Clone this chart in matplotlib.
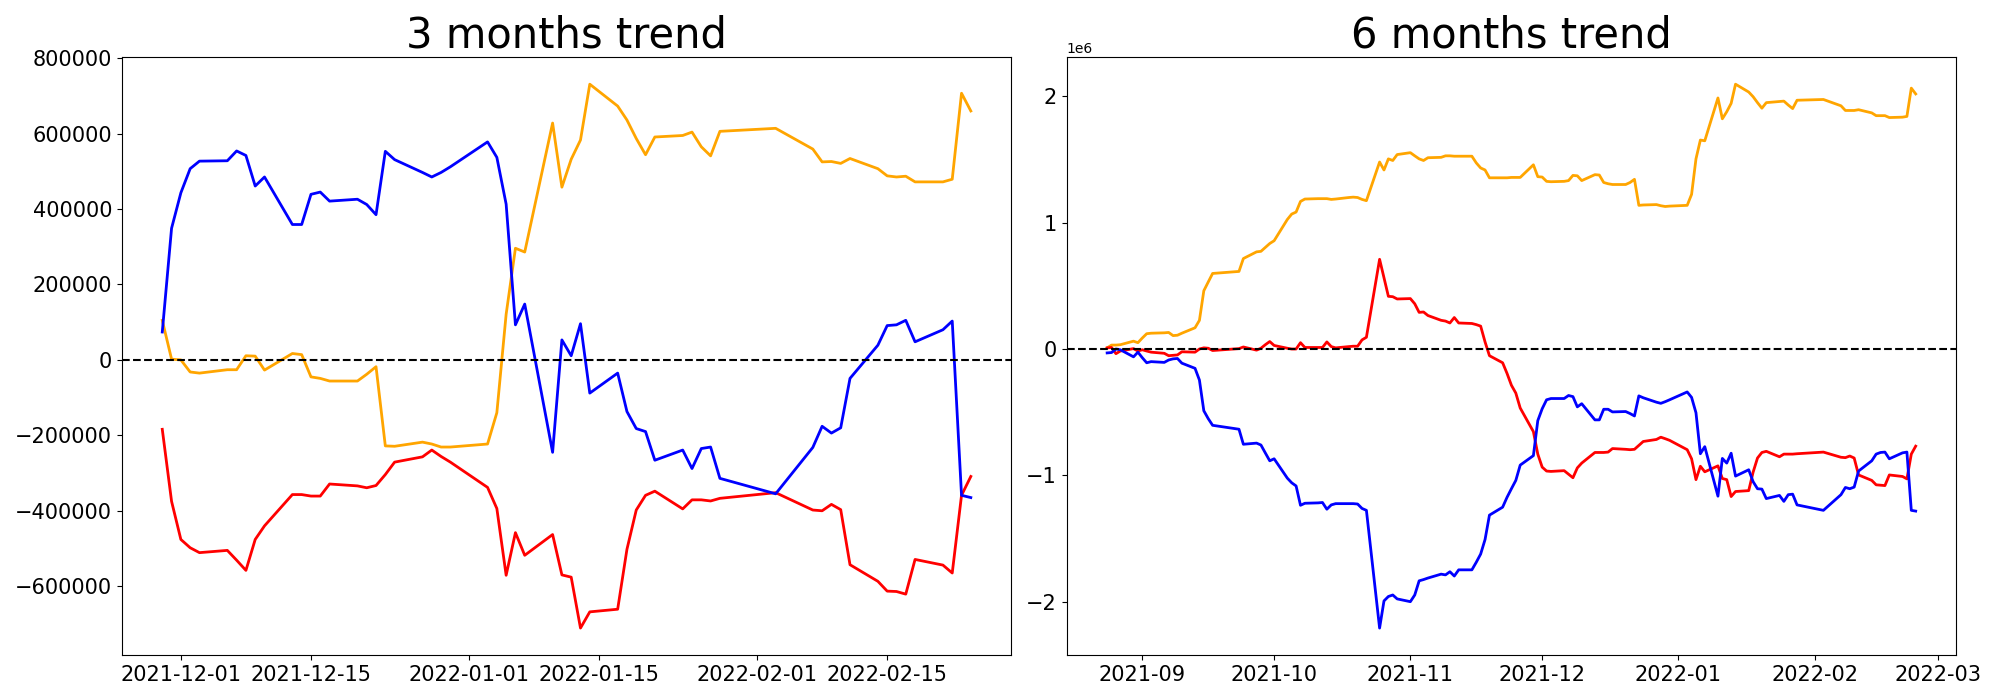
import matplotlib
matplotlib.use("Agg")
import matplotlib.pyplot as plt
import pandas as pd

# ---------------- 3 months data ----------------
dates_3m = ["2021-11-29","2021-11-30","2021-12-01","2021-12-02","2021-12-03","2021-12-06","2021-12-07",
            "2021-12-08","2021-12-09","2021-12-10","2021-12-13","2021-12-14","2021-12-15","2021-12-16",
            "2021-12-17","2021-12-20","2021-12-21","2021-12-22","2021-12-23","2021-12-24","2021-12-27",
            "2021-12-28","2021-12-29","2021-12-30","2022-01-03","2022-01-04","2022-01-05","2022-01-06",
            "2022-01-07","2022-01-10","2022-01-11","2022-01-12","2022-01-13","2022-01-14","2022-01-17",
            "2022-01-18","2022-01-19","2022-01-20","2022-01-21","2022-01-24","2022-01-25","2022-01-26",
            "2022-01-27","2022-01-28","2022-02-03","2022-02-07","2022-02-08","2022-02-09","2022-02-10",
            "2022-02-11","2022-02-14","2022-02-15","2022-02-16","2022-02-17","2022-02-18","2022-02-21",
            "2022-02-22","2022-02-23","2022-02-24"]

blue_3m = [74, 349, 443, 507, 527, 528, 554, 542, 461, 485, 359, 359, 439, 445, 421, 426, 412, 385,
           553, 531, 497, 485, 497, 512, 578, 537, 413, 93, 148, -245, 53, 11, 96, -88, -35, -137,
           -182, -190, -266, -239, -288, -235, -231, -314, -355, -232, -176, -194, -180, -49, 39, 91,
           93, 105, 48, 80, 103, -359, -365]

orange_3m = [105, 2, 0, -32, -35, -26, -26, 11, 10, -27, 17, 14, -45, -49, -56, -56, -38, -18,
             -228, -229, -218, -223, -231, -231, -223, -140, 121, 296, 286, 628, 458, 532, 583, 731,
             673, 636, 587, 544, 591, 595, 604, 565, 541, 606, 614, 559, 525, 526, 521, 534, 507, 488,
             485, 487, 472, 472, 479, 707, 660]

red_3m = [-184, -375, -476, -498, -511, -505, -531, -558, -476, -440, -357, -357, -361, -361, -329,
          -334, -339, -333, -304, -271, -257, -239, -256, -271, -338, -394, -571, -458, -518, -463,
          -570, -576, -711, -668, -661, -502, -398, -359, -348, -395, -371, -371, -374, -367, -352,
          -398, -400, -383, -397, -543, -587, -613, -614, -621, -529, -544, -565, -359, -309]

# ---------------- 6 months data ----------------
dates_6m = ["2021-08-24","2021-08-25","2021-08-26","2021-08-27","2021-08-30","2021-08-31",
            "2021-09-01","2021-09-02","2021-09-03","2021-09-06","2021-09-07","2021-09-08","2021-09-09",
            "2021-09-10","2021-09-13","2021-09-14","2021-09-15","2021-09-16","2021-09-17","2021-09-23",
            "2021-09-24","2021-09-27","2021-09-28","2021-09-29","2021-09-30",
            "2021-10-01","2021-10-04","2021-10-05","2021-10-06","2021-10-07","2021-10-08","2021-10-11",
            "2021-10-12","2021-10-13","2021-10-14","2021-10-15","2021-10-18","2021-10-19","2021-10-20",
            "2021-10-21","2021-10-22","2021-10-25","2021-10-26","2021-10-27","2021-10-28","2021-10-29",
            "2021-11-01","2021-11-02","2021-11-03","2021-11-04","2021-11-05","2021-11-08","2021-11-09",
            "2021-11-10","2021-11-11","2021-11-12","2021-11-15","2021-11-16","2021-11-17","2021-11-18",
            "2021-11-19","2021-11-22","2021-11-23","2021-11-24","2021-11-25","2021-11-26","2021-11-29",
            "2021-11-30"] + dates_3m[2:]

orange_6m = [0.009, 0.031, 0.031, 0.034, 0.062, 0.050,
             0.087, 0.121, 0.125, 0.128, 0.131, 0.106, 0.109, 0.125, 0.168, 0.227, 0.461, 0.530, 0.598,
             0.614, 0.716, 0.769, 0.773, 0.804, 0.835,
             0.857, 1.025, 1.068, 1.084, 1.168, 1.187, 1.190, 1.190, 1.190, 1.184, 1.187, 1.199, 1.202,
             1.199, 1.184, 1.174, 1.480, 1.417, 1.505, 1.492, 1.539,
             1.554, 1.529, 1.505, 1.492, 1.514, 1.517, 1.529, 1.529, 1.526, 1.526, 1.526, 1.473, 1.433,
             1.417, 1.355, 1.355, 1.355, 1.358, 1.358, 1.358, 1.458, 1.364,
             1.361, 1.327, 1.324, 1.327, 1.333, 1.374, 1.371, 1.333, 1.380, 1.377, 1.318, 1.308, 1.302,
             1.302, 1.318, 1.343, 1.137, 1.140, 1.143, 1.134, 1.128, 1.131,
             1.137, 1.224, 1.505, 1.654, 1.648, 1.987, 1.822, 1.878, 1.944, 2.096, 2.034, 1.997, 1.950,
             1.906, 1.950, 1.959, 1.962, 1.931, 1.903, 1.969,
             1.975, 1.925, 1.888, 1.888, 1.888, 1.894, 1.869, 1.847, 1.847, 1.847, 1.832, 1.835, 1.841,
             2.065, 2.019]

blue_6m = [-0.031, -0.028, 0.000, -0.006, -0.062, -0.025,
           -0.069, -0.109, -0.100, -0.106, -0.087, -0.078, -0.075, -0.112, -0.153, -0.246, -0.489,
           -0.551, -0.604, -0.635, -0.754, -0.745, -0.760, -0.823, -0.885,
           -0.869, -1.022, -1.059, -1.084, -1.237, -1.221, -1.218, -1.215, -1.268, -1.234, -1.224,
           -1.224, -1.224, -1.227, -1.262, -1.277, -2.209, -1.994, -1.959, -1.947, -1.978,
           -2.000, -1.947, -1.835, -1.825, -1.813, -1.782, -1.788, -1.763, -1.797, -1.748, -1.748,
           -1.688, -1.623, -1.508, -1.315, -1.252, -1.174, -1.106, -1.040, -0.919, -0.844, -0.567,
           -0.473, -0.402, -0.392, -0.392, -0.368, -0.377, -0.458, -0.433, -0.561, -0.561, -0.477,
           -0.477, -0.498, -0.495, -0.511, -0.530, -0.371, -0.386, -0.421, -0.430, -0.417, -0.402,
           -0.340, -0.383, -0.505, -0.829, -0.773, -1.165, -0.866, -0.903, -0.825, -1.006, -0.956,
           -1.050, -1.106, -1.109, -1.184, -1.159, -1.206, -1.153, -1.149, -1.234,
           -1.277, -1.153, -1.096, -1.106, -1.093, -0.966, -0.885, -0.832, -0.819, -0.816, -0.869,
           -0.822, -0.816, -1.277, -1.283]

red_6m = [0.009, 0.012, -0.037, -0.016, 0.003, -0.016,
          -0.006, -0.016, -0.025, -0.034, -0.053, -0.050, -0.047, -0.022, -0.025, 0.000, 0.009, 0.006,
          -0.012, 0.003, 0.016, -0.009, 0.006, 0.034, 0.059,
          0.028, 0.006, 0.000, 0.000, 0.050, 0.012, 0.012, 0.012, 0.056, 0.019, 0.009, 0.019, 0.022,
          0.022, 0.072, 0.093, 0.710, 0.564, 0.417, 0.414, 0.396,
          0.399, 0.358, 0.290, 0.293, 0.265, 0.227, 0.221, 0.206, 0.249, 0.206, 0.202, 0.193, 0.181,
          0.056, -0.053, -0.109, -0.193, -0.287, -0.349, -0.467, -0.654, -0.832,
          -0.935, -0.966, -0.969, -0.963, -0.991, -1.019, -0.941, -0.903, -0.819, -0.819, -0.819,
          -0.816, -0.788, -0.794, -0.797, -0.794, -0.763, -0.732, -0.716, -0.698, -0.710, -0.723,
          -0.797, -0.869, -1.034, -0.928, -0.972, -0.925, -1.025, -1.034, -1.168, -1.128, -1.121,
          -0.975, -0.863, -0.819, -0.810, -0.853, -0.832, -0.832, -0.832, -0.829,
          -0.816, -0.857, -0.860, -0.847, -0.863, -0.997, -1.040, -1.075, -1.078, -1.081, -0.997,
          -1.009, -1.028, -0.832, -0.769]

titles = ["3 months trend", "6 months trend"]

d3 = pd.to_datetime(dates_3m)
d6 = pd.to_datetime(dates_6m)

fig, axes = plt.subplots(1, 2, figsize=(20, 7), dpi=100)

ax = axes[0]
ax.plot(d3, [v * 1000 for v in orange_3m], color="orange", lw=2)
ax.plot(d3, [v * 1000 for v in red_3m], color="red", lw=2)
ax.plot(d3, [v * 1000 for v in blue_3m], color="blue", lw=2)
ax.axhline(0, color="black", linestyle="--", lw=1.5)
ax.set_title(titles[0], fontsize=30)

ax = axes[1]
ax.plot(d6, [v * 1e6 for v in orange_6m], color="orange", lw=2)
ax.plot(d6, [v * 1e6 for v in red_6m], color="red", lw=2)
ax.plot(d6, [v * 1e6 for v in blue_6m], color="blue", lw=2)
ax.axhline(0, color="black", linestyle="--", lw=1.5)
ax.set_title(titles[1], fontsize=30)

for ax in axes:
    ax.tick_params(labelsize=15)

fig.tight_layout()
fig.savefig("out.png", dpi=100)
